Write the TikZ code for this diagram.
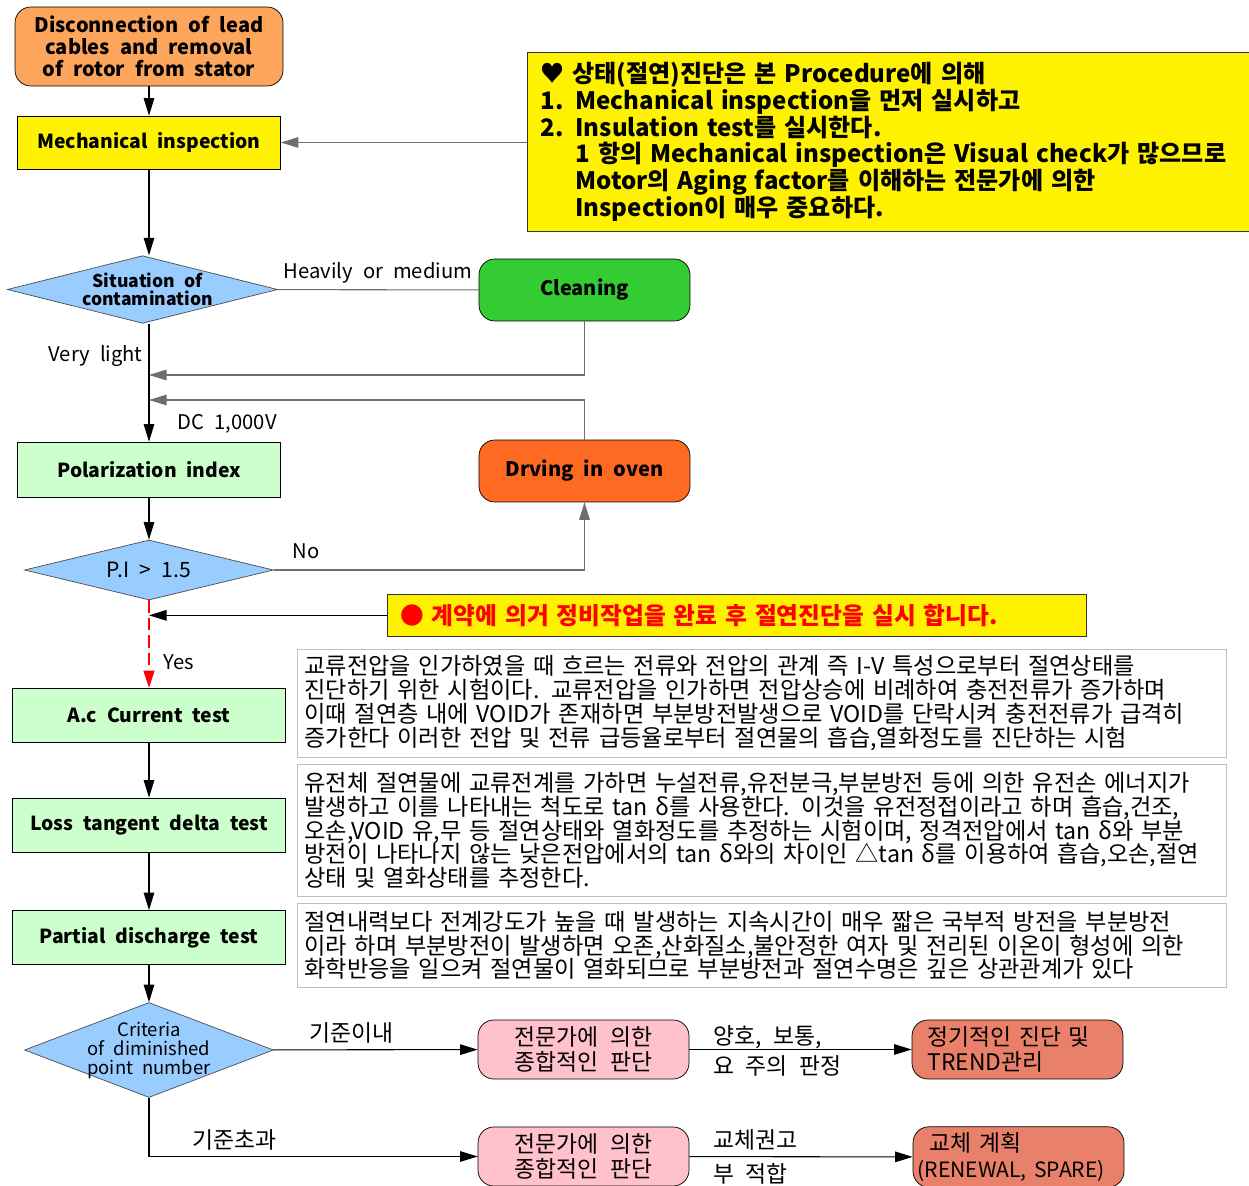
\documentclass[tikz,border=0pt]{standalone}
\usepackage{fontspec}
\setmainfont{Noto Sans CJK KR}[WordSpace=2.2]
\newfontfamily\descfont{Noto Sans CJK KR}
\newcommand{\descspace}{\spaceskip=0.33em plus 0.05em\relax}
\usetikzlibrary{shapes.geometric, arrows.meta, positioning}
\definecolor{orangebox}{HTML}{FDA65B}
\definecolor{decblue}{HTML}{99CCFF}
\definecolor{cleangreen}{HTML}{33CC33}
\definecolor{dryorange}{HTML}{FF6A22}
\definecolor{testgreen}{HTML}{CCFFCC}
\definecolor{judgepink}{HTML}{FFC1CC}
\definecolor{actsalmon}{HTML}{E9806A}
\definecolor{linegray}{HTML}{6E6E6E}
\tikzstyle{startstop} = [rectangle, rounded corners=9pt, minimum width=5.36cm, minimum height=1.58cm, align=center, draw=black, fill=orangebox, font=\bfseries\fontsize{11.4}{12.5}\selectfont]
\tikzstyle{process} = [rectangle, minimum width=5.46cm, minimum height=1.08cm, align=center, draw=black, fill=testgreen, font=\bfseries\fontsize{11}{14}\selectfont]
\tikzstyle{decision} = [diamond, aspect=4, inner sep=0pt, minimum width=4.98cm, minimum height=1.2cm, align=center, draw=black!70, fill=decblue]
\tikzstyle{action} = [rectangle, rounded corners=9pt, minimum width=4.22cm, minimum height=1.24cm, align=center, draw=black, font=\bfseries\fontsize{11.4}{14}\selectfont]
\tikzstyle{judge} = [action, fill=judgepink, minimum height=1.18cm, font=\fontsize{13}{14.5}\selectfont]
\tikzstyle{result} = [judge, fill=actsalmon, align=left, text width=3.6cm, inner xsep=0.31cm]
\tikzstyle{notebox} = [rectangle, anchor=north west, draw=black!80, fill=yellow, align=left, inner xsep=0.26cm]
\tikzstyle{desc} = [rectangle, anchor=north west, draw=black!25, minimum width=18.54cm, text width=18.3cm, inner xsep=0.14cm, align=left, font=\descfont\fontsize{13.2}{13.6}\selectfont\descspace]
\tikzstyle{kolabel} = [font=\fontsize{13}{15}\selectfont]
\tikzstyle{arrow} = [line width=0.6pt, -{Triangle[length=10pt,width=6pt]}]
\tikzstyle{link} = [line width=0.6pt, draw=linegray]

\begin{document}
\begin{tikzpicture}[x=0.02cm, y=-0.02cm, font=\fontsize{11.5}{13.6}\selectfont]

\fill[white] (0,0) rectangle (1249,1186);
\useasboundingbox (0,0) rectangle (1249,1186);

% left column
\node (discon) [startstop] at (149,46.5) {Disconnection of lead\\cables and removal\\of rotor from stator};
\node (mech) [process, fill=yellow, minimum width=5.26cm, minimum height=1.06cm] at (149,142.5) {Mechanical inspection};
\node (sit) [decision, minimum width=5.3cm, minimum height=1.26cm, font=\bfseries\fontsize{10}{10}\selectfont] at (142.5,289.5) {\hspace*{0.2cm}Situation of\\\hspace*{0.2cm}contamination};
\node (pi) [process, minimum width=5.26cm, minimum height=1.1cm] at (149,469.5) {Polarization index};
\node (pid) [decision, font=\fontsize{12}{14}\selectfont] at (149,570) {P.I > 1.5};
\node (ac) [process] at (149,715.5) {A.c Current test};
\node (loss) [process] at (149,825) {Loss tangent delta test};
\node (pd) [process] at (149,937.5) {Partial discharge test};
\node (crit) [decision, minimum height=1.9cm] at (149,1050) {};
\node (crittext) [align=center, font=\fontsize{10.5}{10.8}\selectfont] at (crit) {Criteria\\of diminished\\point number};

% right column
\node (clean) [action, fill=cleangreen] at (584.5,290) {Cleaning};
\node (dry) [action, fill=dryorange] at (584.5,471) {Drving in oven};
\node (judge1) [judge] at (583.5,1049.5) {전문가에 의한\\종합적인 판단};
\node (judge2) [judge] at (583.5,1156.5) {전문가에 의한\\종합적인 판단};
\node (trend) [result] at (1017.5,1049.5) {정기적인 진단 및\\TREND관리};
\node (renew) [result, text width=4.04cm, inner xsep=0.09cm] at (1018.5,1157) {\hspace*{0.24cm}교체 계획\\\mbox{\fontsize{12}{14}\selectfont(RENEWAL, SPARE)}};

% notes
\node (note) [notebox, minimum width=14.6cm, minimum height=3.58cm, text width=14.08cm, font=\bfseries\fontsize{13.7}{15.3}\selectfont] at (527,52) {♥ 상태(절연)진단은 본 Procedure에 의해\\
1. Mechanical inspection을 먼저 실시하고\\
2. Insulation test를 실시한다.\\
\hspace*{0.7cm}1 항의 Mechanical inspection은 Visual check가 많으므로\\
\hspace*{0.7cm}Motor의 Aging factor를 이해하는 전문가에 의한\\
\hspace*{0.7cm}Inspection이 매우 중요하다.};
\node (warn) [notebox, minimum width=13.98cm, minimum height=0.84cm, text width=13.46cm, text=red, font=\bfseries\fontsize{13.5}{14}\selectfont] at (387,594) {● 계약에 의거 정비작업을 완료 후 절연진단을 실시 합니다.};

\node (desc1) [desc, minimum height=2.16cm] at (297,649) {교류전압을 인가하였을 때 흐르는 전류와 전압의 관계 즉 I-V 특성으로부터 절연상태를\\
진단하기 위한 시험이다. 교류전압을 인가하면 전압상승에 비례하여 충전전류가 증가하며\\
이때 절연층 내에 VOID가 존재하면 부분방전발생으로 VOID를 단락시켜 충전전류가 급격히\\
증가한다 이러한 전압 및 전류 급등율로부터 절연물의 흡습,열화정도를 진단하는 시험};
\node (desc2) [desc, minimum height=2.64cm] at (297,764) {유전체 절연물에 교류전계를 가하면 누설전류,유전분극,부분방전 등에 의한 유전손 에너지가\\
발생하고 이를 나타내는 척도로 tan δ를 사용한다. 이것을 유전정접이라고 하며 흡습,건조,\\
오손,VOID 유,무 등 절연상태와 열화정도를 추정하는 시험이며, 정격전압에서 tan δ와 부분\\
방전이 나타나지 않는 낮은전압에서의 tan δ와의 차이인 △tan δ를 이용하여 흡습,오손,절연\\
상태 및 열화상태를 추정한다.};
\node (desc3) [desc, minimum height=1.68cm] at (297,903) {절연내력보다 전계강도가 높을 때 발생하는 지속시간이 매우 짧은 국부적 방전을 부분방전\\
이라 하며 부분방전이 발생하면 오존,산화질소,불안정한 여자 및 전리된 이온이 형성에 의한\\
화학반응을 일으켜 절연물이 열화되므로 부분방전과 절연수명은 깊은 상관관계가 있다};

% junctions on the trunk
\coordinate (back1) at (149,375);
\coordinate (back2) at (149,400);

% connectors
\draw [arrow] (discon) -- (mech);
\draw [arrow, linegray] (note.west |- mech.east) -- (mech.east);
\draw [arrow] (mech.south) -- (mech.south |- sit.north);
\draw [link] (sit) -- node (lblheavy) [above, text=black] {Heavily or medium} (clean);
\draw [arrow, linegray] (clean) |- (back1);
\draw [arrow, linegray] (dry) |- (back2);
\draw [arrow] (pi.north |- sit.south) -- node (lblvery) [pos=0.27, left] {Very light} node (lbldc) [pos=0.85, right, xshift=0.45cm] {DC 1,000V} (pi);
\draw [arrow] (pi) -- (pid);
\draw [arrow, linegray] (pid) -| node (lblno) [pos=0.02, above right, yshift=0.1cm, text=black] {No} (dry);
\draw [arrow, red, dash pattern=on 7pt off 3pt, line width=1.6pt] (pid) -- node (lblyes) [pos=0.7, right, xshift=0.15cm, text=black] {Yes} (ac);
\draw [arrow] (warn.west) -- (warn.west -| pid.south);
\draw [arrow] (ac) -- (loss);
\draw [arrow] (loss) -- (pd);
\draw [arrow] (pd) -- (crit);
\draw [arrow] (crit) -- node (lblin) [kolabel, pos=0.38, above] {기준이내} (judge1);
\draw [arrow] (judge1) -- node (lblgood) [kolabel, pos=0.08, above right, yshift=-0.12cm] {양호, 보통,} node (lblcare) [kolabel, pos=0.08, below right] {요 주의 판정} (trend);
\draw [arrow] (crit) |- node (lblout) [kolabel, pos=0.63, above] {기준초과} (judge2);
\draw [arrow] (judge2) -- node (lblswap) [kolabel, pos=0.08, above right] {교체권고} node (lblunfit) [kolabel, pos=0.08, below right] {부 적합} (renew);

\end{tikzpicture}
\end{document}
